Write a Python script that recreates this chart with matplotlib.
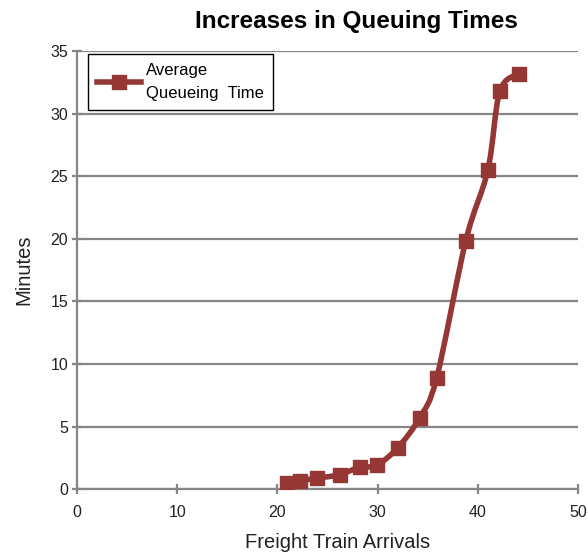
import numpy as np
import matplotlib.pyplot as plt
from matplotlib.path import Path
from matplotlib.patches import PathPatch
from matplotlib.lines import Line2D

plt.rcParams['font.family'] = ['Liberation Sans', 'DejaVu Sans']

# freight train arrivals vs average queueing time (minutes)
arrivals = [21.0, 22.3, 24.0, 26.2, 28.2, 29.9, 32.0, 34.2, 35.9, 38.8, 41.0, 42.2, 44.1]
minutes = [0.47, 0.68, 0.87, 1.15, 1.74, 1.9, 3.3, 5.7, 8.9, 19.85, 25.5, 31.8, 33.2]

line_col = '#953735'
grid_col = '#868686'

fig = plt.figure(figsize=(5.88, 5.57), dpi=100)
ax = fig.add_axes([0.131, 0.122, 0.852, 0.786])

# smoothed line through the points (bezier segments, catmull-rom style)
pts = np.column_stack([arrivals, minutes])
verts = [pts[0]]
codes = [Path.MOVETO]
n = len(pts)
for i in range(n - 1):
    p0 = pts[max(i - 1, 0)]
    p1 = pts[i]
    p2 = pts[i + 1]
    p3 = pts[min(i + 2, n - 1)]
    c1 = p1 + (p2 - p0) / 6.0
    c2 = p2 - (p3 - p1) / 6.0
    verts += [c1, c2, p2]
    codes += [Path.CURVE4] * 3
ax.add_patch(PathPatch(Path(verts, codes), fill=False, edgecolor=line_col,
                       lw=4, capstyle='round', joinstyle='round', zorder=3))
ax.plot(arrivals, minutes, linestyle='none', marker='s', markersize=10.5,
        color=line_col, zorder=4)

ax.set_xlim(0, 50)
ax.set_ylim(0, 35)
ax.set_xticks(np.arange(0, 51, 10))
ax.set_yticks(np.arange(0, 36, 5))
ax.yaxis.grid(True, color=grid_col, lw=1.6)
ax.set_axisbelow(True)
for s in ['top', 'right']:
    ax.spines[s].set_visible(False)
for s in ['left', 'bottom']:
    ax.spines[s].set_color(grid_col)
    ax.spines[s].set_linewidth(1.6)
ax.tick_params(direction='inout', length=7, width=1.6, color=grid_col,
               labelsize=11.5, labelcolor='#222222')
ax.tick_params(axis='x', pad=8)
ax.tick_params(axis='y', pad=3)

ax.set_title('Increases in Queuing Times', fontsize=17.5, fontweight='bold',
             x=0.557, pad=17)
ax.set_xlabel('Freight Train Arrivals', fontsize=14.5, labelpad=9,
              color='#222222', x=0.521)
ax.set_ylabel('Minutes', fontsize=14.5, labelpad=12, color='#222222')

handle = Line2D([], [], color=line_col, lw=4, marker='s', markersize=10.5)
leg = ax.legend([handle], ['Average\nQueueing  Time'], loc='upper left',
                bbox_to_anchor=(0.022, 0.994), fontsize=12, fancybox=False,
                framealpha=1, edgecolor='black', handlelength=2.6,
                handletextpad=0.3, borderpad=0.55, borderaxespad=0)
leg.get_frame().set_linewidth(1.0)
for t in leg.get_texts():
    t.set_linespacing(1.65)

fig.savefig('out.png', dpi=100)
